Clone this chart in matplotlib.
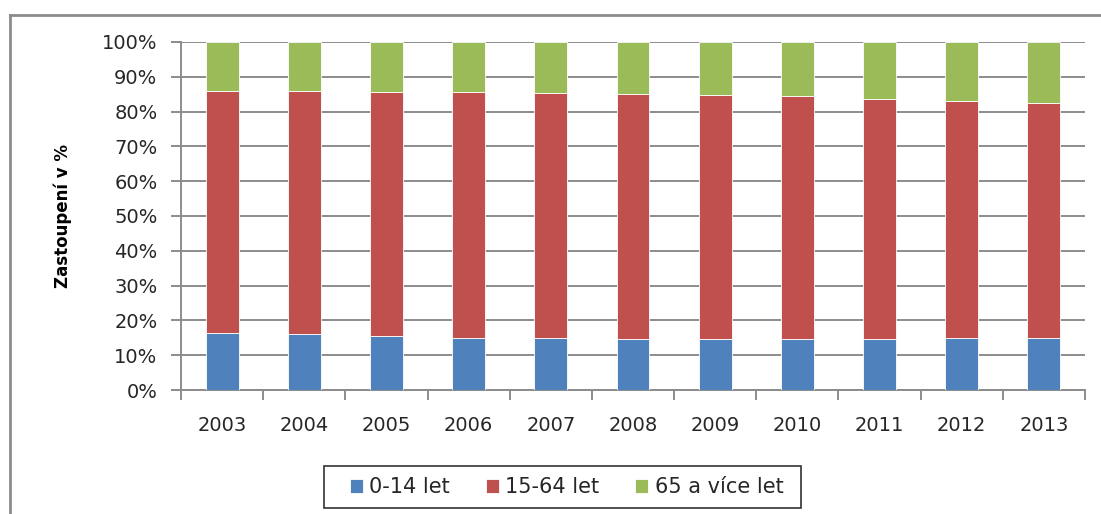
import matplotlib
matplotlib.use("Agg")
import matplotlib.pyplot as plt
import numpy as np
from matplotlib.ticker import FuncFormatter, FixedLocator
from matplotlib.patches import Rectangle

years = ["2003", "2004", "2005", "2006", "2007", "2008",
         "2009", "2010", "2011", "2012", "2013"]
share_0_14 = [16.3, 16.0, 15.6, 15.0, 15.0, 14.6, 14.6, 14.6, 14.6, 15.0, 15.0]
share_15_64 = [69.7, 69.9, 70.0, 70.6, 70.3, 70.5, 70.1, 69.8, 69.1, 68.0, 67.5]
share_65_plus = [14.0, 14.1, 14.4, 14.4, 14.7, 14.9, 15.3, 15.6, 16.3, 17.0, 17.5]
series_labels = ["0-14 let", "15-64 let", "65 a více let"]
colors = ["#4F81BD", "#C0504D", "#9BBB59"]

W, H = 1101, 514
fig = plt.figure(figsize=(W / 100, H / 100), dpi=100)
fig.patch.set_facecolor("white")

# plot area in pixel coordinates
left, right, top, bottom = 181, 1085, 42, 390
ax = fig.add_axes([left / W, 1 - bottom / H, (right - left) / W, (bottom - top) / H])

x = np.arange(len(years))
bar_w = 0.40
base = np.zeros(len(years))
handles = []
for vals, lab, col in zip([share_0_14, share_15_64, share_65_plus], series_labels, colors):
    v = np.array(vals, dtype=float)
    h = ax.bar(x, v, bar_w, bottom=base, color=col, edgecolor="white",
               linewidth=0.6, label=lab, zorder=3)
    handles.append(h)
    base += v

ax.set_xlim(-0.5, len(years) - 0.5)
ax.set_ylim(0, 100)
ax.yaxis.set_major_locator(FixedLocator(np.arange(0, 101, 10)))
ax.yaxis.set_major_formatter(FuncFormatter(lambda v, p: f"{int(v)}%"))
ax.set_xticks(x)
ax.set_xticklabels(years)
ax.xaxis.set_minor_locator(FixedLocator(np.arange(-0.5, len(years), 1.0)))

grid_col = "#8C8C8C"
text_col = "#262626"
ax.grid(axis="y", color=grid_col, linewidth=1.4, zorder=0)
ax.set_axisbelow(True)
for s in ["top", "right"]:
    ax.spines[s].set_visible(False)
for s in ["left", "bottom"]:
    ax.spines[s].set_color(grid_col)
    ax.spines[s].set_linewidth(1.4)

ax.tick_params(axis="x", which="major", length=0, pad=19, labelsize=14, labelcolor=text_col)
ax.tick_params(axis="x", which="minor", length=7, width=1.4, color=grid_col)
ax.tick_params(axis="y", which="major", length=7, width=1.4, color=grid_col,
               pad=10, labelsize=14, labelcolor=text_col)

ax.set_ylabel("Zastoupení v %", fontsize=12, fontweight="bold", color="black",
              family=["Liberation Sans Narrow", "DejaVu Sans"])
ax.yaxis.set_label_coords((72 - left) / (right - left), 0.5)

leg = fig.legend(handles=handles, labels=series_labels, loc="center",
                 bbox_to_anchor=(566.5 / W, 1 - 487 / H), ncol=3, frameon=False,
                 fontsize=15, handlelength=0.65, handleheight=0.65, handletextpad=0.3,
                 columnspacing=1.7, labelcolor=text_col)

# legend box
fig.add_artist(Rectangle((324 / W, 1 - 508 / H), (801 - 324) / W, (508 - 466) / H,
                         transform=fig.transFigure, facecolor="none",
                         edgecolor="#333333", linewidth=1.2))

# chart frame
fig.add_artist(plt.Line2D([9.5 / W, 9.5 / W], [0, 1 - 15 / H], transform=fig.transFigure,
                          color="#8C8C8C", linewidth=2))
fig.add_artist(plt.Line2D([9.5 / W, 1], [1 - 15 / H, 1 - 15 / H], transform=fig.transFigure,
                          color="#8C8C8C", linewidth=2))

fig.savefig("out.png", dpi=100)
